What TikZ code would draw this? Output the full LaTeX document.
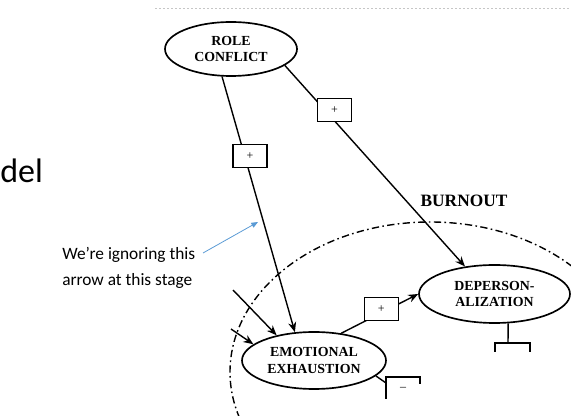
\documentclass[tikz,border=0pt]{standalone}
\usepackage{fontspec}
\setmainfont{Liberation Serif}
\newfontfamily\calloutfont{Carlito}
\usetikzlibrary{arrows.meta,shapes.geometric}
\begin{document}
\begin{tikzpicture}[x=0.75pt,y=-0.75pt,
  construct/.style={ellipse, draw, line width=1.25pt, inner sep=0pt, align=center,
    font=\bfseries\fontsize{10.4}{12.5}\selectfont},
  signbox/.style={rectangle, draw, fill=white, line width=0.9pt,
    minimum width=25.5pt, minimum height=17.25pt, inner sep=0pt,
    font=\fontsize{9}{10}\selectfont},
  link/.style={line width=1.05pt, -{Stealth[length=7.5pt,width=6pt]}},
  bare/.style={line width=1.05pt},
  region/.style={line width=1.05pt, dash pattern=on 5.5pt off 2.5pt on 1.2pt off 2.5pt},
  note/.style={font=\calloutfont\fontsize{13}{15}\selectfont, inner sep=0pt, anchor=base west},
  pointer/.style={draw={rgb,255:red,91;green,155;blue,213}, line width=0.6pt,
    -{Triangle[length=5pt,width=4pt]}}
]
\path[use as bounding box] (0,0) rectangle (571,416);
\clip (0,0) rectangle (571,416);

% faint dotted rule along the top
\draw[gray!45, line width=0.75pt, dash pattern=on 1.5pt off 1.5pt] (155,9) -- (571,9);

% slide title fragment
\node[font=\calloutfont\fontsize{25.5}{28}\selectfont, inner sep=0pt, anchor=base west] (title) at (0,183) {del};

% burnout region
\draw[region] (430,372) ellipse [x radius=150pt, y radius=112.5pt];
\node[font=\bfseries\fontsize{13}{15}\selectfont] (burnout) at (464,201) {BURNOUT};

% constructs
\node[construct, minimum width=99pt, minimum height=40.5pt] (rc) at (231,49) {ROLE\\CONFLICT};
\node[construct, minimum width=108pt, minimum height=42.75pt] (ee) at (314,360.5) {EMOTIONAL\\EXHAUSTION};
\node[construct, minimum width=113.25pt, minimum height=43.5pt] (dp) at (494.5,294) {DEPERSON-\\ALIZATION};

% signed paths
\draw[link] (rc.252) -- node[signbox, pos=0.31, xshift=4pt] (b1) {+} (ee.124);
\draw[link] (rc.343) -- node[signbox, pos=0.22, xshift=7.5pt] (b2) {+} (dp.137);
\draw[link] (ee.45) -- node[signbox, pos=0.52, yshift=3pt] (b3) {+} (dp.180);

% other incoming paths
\coordinate (inA) at (233,290);
\coordinate (inB) at (231,329);
\draw[link] (inA) -- (ee.146);
\draw[link] (inB) -- (ee.165);

% outgoing path from emotional exhaustion
\coordinate (mk) at (386,383);
\draw[bare] (ee.346) -- (mk);
\draw[bare] (386,399) -- (386,377) -- (420,377) -- (420,384);
\node[font=\fontsize{9}{10}\selectfont, inner sep=0pt] (minus) at (403,389) {–};

% outgoing path from depersonalization
\coordinate (stem) at (508,343);
\draw[bare] (dp.295) -- (stem);
\draw[bare] (495,352) -- (495,343) -- (530,343) -- (530,352);

% callout
\node[note] (note1) at (62,260) {We’re ignoring this};
\node[note] (note2) at (62,286) {arrow at this stage};
\coordinate (ptail) at (203,253);
\coordinate (phead) at (258,222);
\draw[pointer] (ptail) -- (phead);
\end{tikzpicture}
\end{document}
